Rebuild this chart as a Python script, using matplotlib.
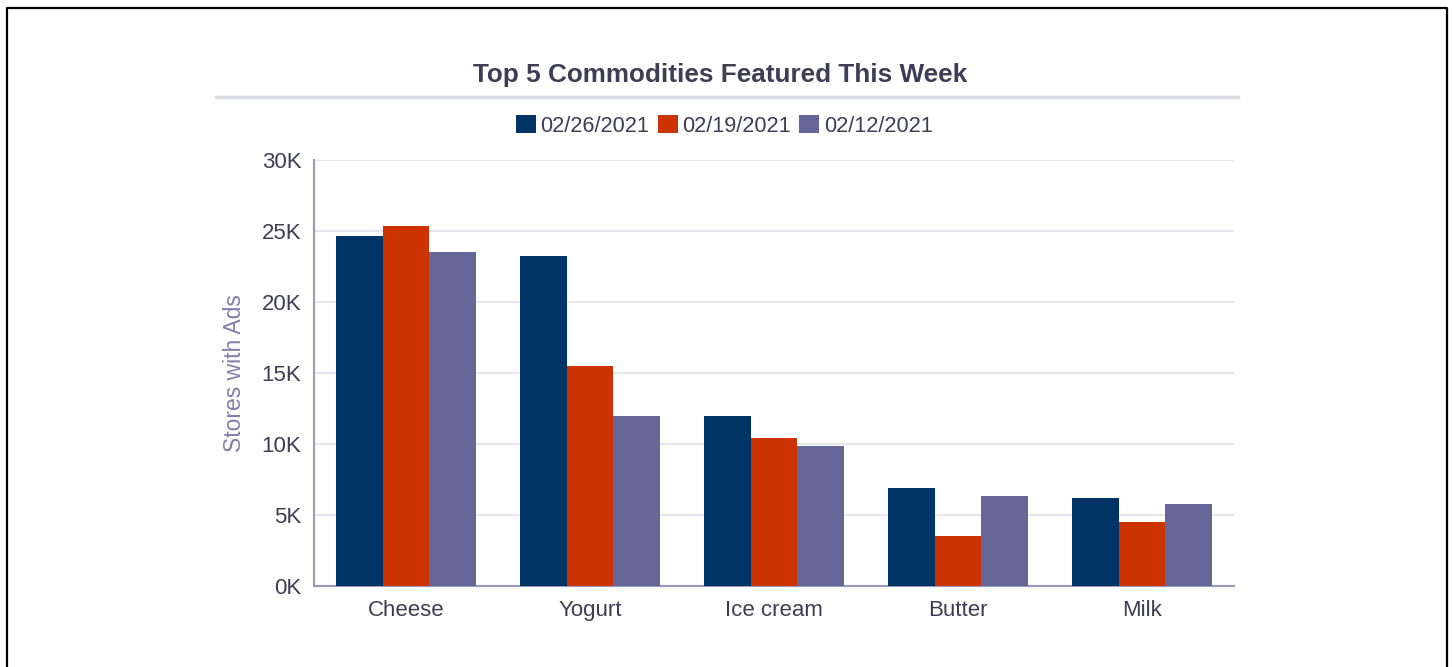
import numpy as np
import matplotlib
matplotlib.use("Agg")
import matplotlib.pyplot as plt
from matplotlib.lines import Line2D
from matplotlib.patches import Patch
from matplotlib.ticker import FuncFormatter

plt.rcParams['font.family'] = ['Liberation Sans', 'DejaVu Sans']

# data
categories = ["Cheese", "Yogurt", "Ice cream", "Butter", "Milk"]
weeks = ["02/26/2021", "02/19/2021", "02/12/2021"]
week_0226 = [24650, 23250, 11970, 6900, 6200]
week_0219 = [25350, 15500, 10420, 3520, 4500]
week_0212 = [23520, 11970, 9860, 6340, 5770]
colors = ["#003366", "#cc3300", "#666699"]

series = [week_0226, week_0219, week_0212]

fig = plt.figure(figsize=(14.53, 6.67), dpi=100)
ax = fig.add_axes([0.2161, 0.1214, 0.6332, 0.6387])

x = np.arange(len(categories))
bar_w = 0.252
for i, vals in enumerate(series):
    ax.bar(x + (i - 1) * bar_w, vals, width=bar_w, color=colors[i],
           zorder=3, linewidth=0)

ax.set_xlim(-0.5, len(categories) - 0.5)
ax.set_ylim(0, 30000)
ax.set_yticks(np.arange(0, 30001, 5000))
ax.yaxis.set_major_formatter(FuncFormatter(lambda v, p: "%dK" % (v / 1000)))
ax.set_xticks(x)
ax.set_xticklabels(categories)

ax.grid(axis='y', color='#e6e6ee', linewidth=1.5, zorder=0)
for s in ['top', 'right']:
    ax.spines[s].set_visible(False)
for s in ['left', 'bottom']:
    ax.spines[s].set_color('#9999bb')
    ax.spines[s].set_linewidth(1.5)
ax.tick_params(axis='both', length=0, labelsize=16, colors='#3d3d55')
ax.tick_params(axis='y', pad=9)
ax.tick_params(axis='x', pad=10)
ax.set_ylabel("Stores with Ads", fontsize=16.5, color='#8080a8')
ax.yaxis.set_label_coords(-0.074, 0.5)

fig.text(0.4955, 1 - 75 / 667, "Top 5 Commodities Featured This Week",
         ha='center', va='center', fontsize=18.8, fontweight='bold', color='#3d3d55')
fig.add_artist(Line2D([216 / 1453, 1238 / 1453], [1 - 97 / 667, 1 - 97 / 667],
                      color='#dcdce6', linewidth=2.5, transform=fig.transFigure))

handles = [Patch(facecolor=c, edgecolor='none') for c in colors]
fig.legend(handles, weeks, loc='center', bbox_to_anchor=(0.4985, 1 - 126 / 667),
           ncol=3, frameon=False, fontsize=15.7, handlelength=0.92, handleheight=0.87,
           handletextpad=0.23, columnspacing=0.37, labelcolor='#3d3d55')

# page border (left, top, right)
bx0, bx1 = 6.5 / 1453, 1447 / 1453
by = 1 - 7.5 / 667
fig.add_artist(Line2D([bx0, bx0, bx1, bx1], [0, by, by, 0], color='black',
                      linewidth=1.6, transform=fig.transFigure))

fig.savefig("out.png", dpi=100)
